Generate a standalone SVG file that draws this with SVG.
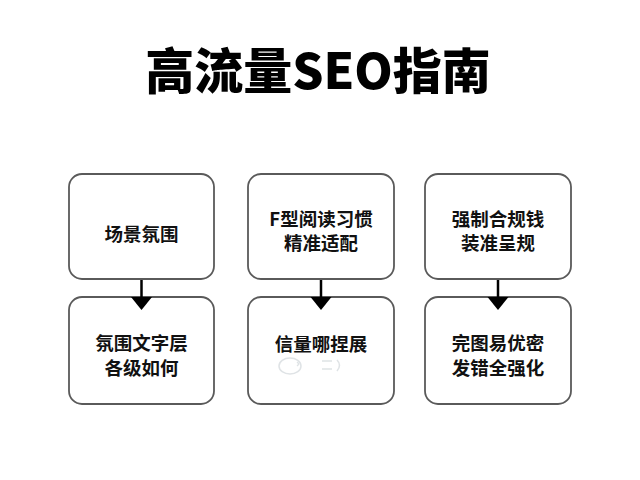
<svg xmlns="http://www.w3.org/2000/svg" width="640" height="480" viewBox="0 0 640 480">
<defs>
<style>
.box{fill:#fff;stroke:#5a5a5a;stroke-width:1.8}
.t{font-family:"Noto Sans CJK SC","Liberation Sans",sans-serif;font-weight:bold;font-size:18.5px;fill:#111;text-anchor:middle;dominant-baseline:central}
.title{font-family:"Noto Sans CJK SC","Liberation Sans",sans-serif;font-weight:900;font-size:49px;fill:#000;text-anchor:middle;dominant-baseline:central}
.conn{stroke:#000;stroke-width:2.5;fill:none}
.head{fill:#000}
</style>
</defs>
<rect width="640" height="480" fill="#fff"/>
<text class="title" x="318" y="67">高流量SEO指南</text>
<g id="n1">
<rect class="box" x="69" y="174" width="145" height="105" rx="13"/>
<text class="t" x="141.5" y="233">场景氛围</text>
</g>
<g id="n2">
<rect class="box" x="69" y="297" width="145" height="107" rx="13"/>
<text class="t" x="141.5" y="342">氛围文字层</text>
<text class="t" x="141.5" y="367">各级如何</text>
</g>
<g id="n3">
<rect class="box" x="248" y="174" width="146" height="105" rx="13"/>
<text class="t" x="321" y="218">F型阅读习惯</text>
<text class="t" x="321" y="242">精准适配</text>
</g>
<g id="n4">
<rect class="box" x="248" y="297" width="146" height="107" rx="13"/>
<text class="t" x="321" y="343">信量哪捏展</text>
<g fill="none" stroke="#d8dde0" stroke-width="1.5" opacity="0.8">
<ellipse cx="290" cy="366" rx="11" ry="8"/>
<path d="M297,362 q3,2 0,4 M322,361 h10 M322,369 h10 M337,360 q5,5 0,11"/>
</g>
</g>
<g id="n5">
<rect class="box" x="425" y="174" width="146" height="105" rx="13"/>
<text class="t" x="498" y="218">强制合规钱</text>
<text class="t" x="498" y="242">装准呈规</text>
</g>
<g id="n6">
<rect class="box" x="425" y="297" width="146" height="107" rx="13"/>
<text class="t" x="498" y="342">完图易优密</text>
<text class="t" x="498" y="367">发错全强化</text>
</g>
<g id="connectors">
<line class="conn" x1="141.5" y1="280" x2="141.5" y2="298"/>
<path class="head" d="M131,297 L152,297 L141.5,310 Z"/>
<line class="conn" x1="321" y1="280" x2="321" y2="298"/>
<path class="head" d="M310.5,297 L331.5,297 L321,310 Z"/>
<line class="conn" x1="498" y1="280" x2="498" y2="298"/>
<path class="head" d="M487.5,297 L508.5,297 L498,310 Z"/>
</g>
</svg>
